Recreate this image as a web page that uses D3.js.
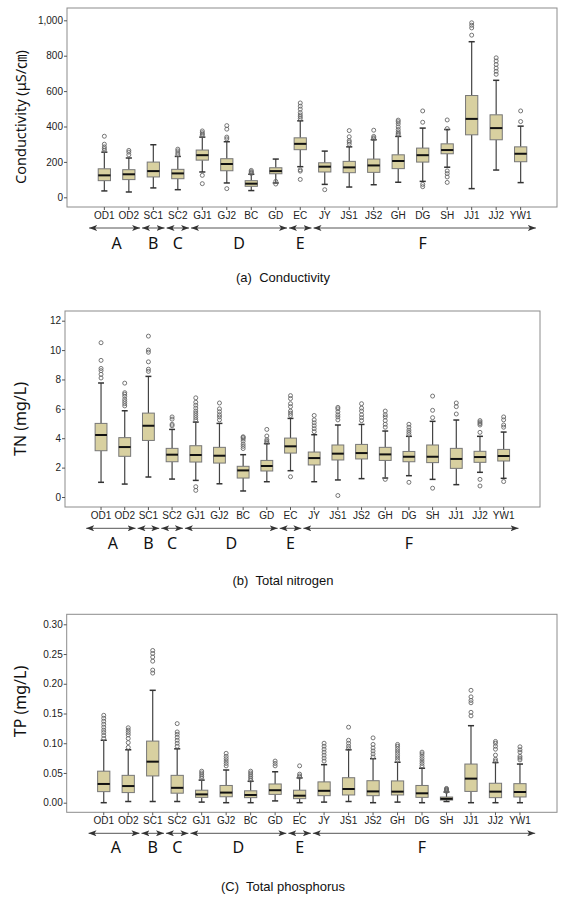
<!DOCTYPE html>
<html>
<head>
<meta charset="utf-8">
<script src="https://cdn.jsdelivr.net/npm/d3@7"></script>
<style>
  body { margin: 0; background: #fff; }
  svg { display: block; }
</style>
</head>
<body>
<div id="chart"></div>
<script>
// sampling sites and the river sections they belong to
const sites = ["OD1", "OD2", "SC1", "SC2", "GJ1", "GJ2", "BC", "GD", "EC",
    "JY", "JS1", "JS2", "GH", "DG", "SH", "JJ1", "JJ2", "YW1"];
const groupNames = ["A", "B", "C", "D", "E", "F"];
const groupFirst = ["OD1", "SC1", "SC2", "GJ1", "EC", "JY"];
const groupLast = ["OD2", "SC1", "SC2", "GD", "EC", "YW1"];

// (a) conductivity, uS/cm
const ecLow = [36, 30, 53, 43, 143, 81, 38, 81, 173, 73, 58, 71, 85, 90, 170, 49, 154, 83];
const ecQ1 = [94, 100, 115, 105, 210, 150, 62, 133, 269, 143, 139, 141, 162, 199, 246, 353, 325, 201];
const ecMed = [124, 130, 148, 135, 238, 188, 77, 148, 302, 173, 169, 180, 205, 238, 267, 443, 391, 246];
const ecQ3 = [161, 156, 199, 158, 267, 218, 94, 167, 336, 195, 203, 216, 240, 278, 302, 575, 466, 285];
const ecHigh = [255, 222, 297, 231, 340, 314, 130, 216, 432, 261, 285, 325, 344, 391, 383, 879, 661, 402];
const ecOut = [
    [265, 275, 285, 300, 345], [240, 255, 265], [], [240, 250, 262, 272],
    [350, 357, 365, 375, 124, 77], [330, 340, 385, 405, 49], [135, 140, 145, 152], [90, 75],
    [445, 455, 465, 478, 498, 515, 533, 155, 148, 101], [43], [300, 312, 320, 342, 377],
    [330, 336, 344, 379], [355, 362, 370, 383, 398, 415, 427, 436], [60, 73, 424, 488],
    [388, 437, 149, 134, 115, 84], [916, 957, 972, 986], [695, 712, 730, 750, 770, 788], [428, 488]
];

// (b) total nitrogen, mg/L
const tnLow = [1.0, 0.88, 1.36, 1.22, 1.13, 0.9, 0.41, 1.04, 1.79, 1.04, 1.16, 1.25, 1.29, 1.45, 1.2, 0.84, 1.68, 1.27];
const tnQ1 = [3.15, 2.77, 3.85, 2.4, 2.38, 2.31, 1.29, 1.77, 2.99, 2.18, 2.52, 2.59, 2.49, 2.4, 2.34, 1.95, 2.36, 2.45];
const tnMed = [4.22, 3.4, 4.85, 2.88, 2.86, 2.81, 1.81, 2.11, 3.45, 2.65, 2.95, 2.99, 2.9, 2.74, 2.74, 2.59, 2.72, 2.79];
const tnQ3 = [5.01, 4.04, 5.71, 3.31, 3.49, 3.38, 2.09, 2.49, 4.01, 3.06, 3.54, 3.58, 3.38, 3.1, 3.54, 3.31, 3.11, 3.24];
const tnHigh = [7.76, 5.87, 8.21, 4.6, 5.1, 5.01, 2.88, 3.63, 5.35, 4.24, 4.9, 4.94, 4.49, 4.13, 5.15, 5.24, 4.13, 4.42];
const tnOut = [
    [8.1, 8.35, 8.6, 8.75, 9.3, 10.5], [6.2, 6.35, 6.5, 6.65, 6.85, 7.0, 7.1, 7.75],
    [8.55, 8.7, 9.2, 9.85, 10.0, 10.95], [4.85, 4.95, 5.3, 5.45],
    [5.25, 5.4, 5.55, 5.7, 5.85, 6.05, 6.25, 6.45, 6.75, 0.7, 0.45], [5.25, 5.45, 5.6, 5.8, 6.0, 6.4],
    [3.3, 3.45, 3.6, 3.8, 3.95, 4.05, 4.1], [3.7, 3.8, 3.9, 4.15, 4.6],
    [5.55, 5.7, 5.85, 6.15, 6.35, 6.7, 6.9, 1.38], [4.45, 4.65, 4.85, 5.05, 5.25, 5.55],
    [5.25, 5.45, 5.6, 5.8, 6.0, 6.1, 0.1], [5.2, 5.4, 5.6, 5.85, 6.05, 6.35],
    [4.75, 4.95, 5.2, 5.45, 5.6, 5.85, 1.2], [4.25, 4.4, 4.55, 4.75, 4.95, 1.0],
    [5.4, 5.9, 6.87, 0.6], [5.65, 6.15, 6.4], [4.4, 4.9, 5.0, 5.1, 5.2, 1.2, 0.75], [4.75, 4.9, 5.25, 5.45, 1.05]
];

// (c) total phosphorus, mg/L
const tpLow = [0.0, 0.002, 0.002, 0.002, 0.001, 0.0, 0.0, 0.003, 0.0, 0.001, 0.002, 0.0, 0.001, 0.0, 0.002, 0.0, 0.0, 0.0];
const tpQ1 = [0.0186, 0.017, 0.045, 0.016, 0.009, 0.01, 0.0085, 0.014, 0.0068, 0.0118, 0.013, 0.0118, 0.013, 0.009, 0.0045, 0.019, 0.0085, 0.0096];
const tpMed = [0.0315, 0.028, 0.069, 0.025, 0.014, 0.017, 0.013, 0.021, 0.0118, 0.02, 0.023, 0.019, 0.0186, 0.0158, 0.0065, 0.0405, 0.0186, 0.018];
const tpQ3 = [0.053, 0.046, 0.1036, 0.046, 0.021, 0.029, 0.02, 0.0315, 0.021, 0.035, 0.042, 0.037, 0.0366, 0.029, 0.0095, 0.065, 0.0327, 0.032];
const tpHigh = [0.105, 0.089, 0.189, 0.0906, 0.038, 0.055, 0.036, 0.052, 0.0417, 0.064, 0.089, 0.074, 0.068, 0.058, 0.018, 0.1295, 0.0675, 0.065];
const tpOut = [
    [0.108, 0.113, 0.118, 0.122, 0.127, 0.132, 0.137, 0.142, 0.147], [0.093, 0.101, 0.108, 0.114, 0.118, 0.122, 0.126],
    [0.218, 0.223, 0.238, 0.245, 0.251, 0.256], [0.095, 0.1, 0.105, 0.11, 0.115, 0.119, 0.133],
    [0.041, 0.044, 0.047, 0.05, 0.053], [0.062, 0.066, 0.07, 0.074, 0.078, 0.083],
    [0.038, 0.041, 0.044, 0.047, 0.05, 0.053], [0.062, 0.066, 0.07], [0.043, 0.045, 0.048, 0.062],
    [0.07, 0.075, 0.08, 0.085, 0.09, 0.095, 0.1], [0.091, 0.095, 0.1, 0.105, 0.127],
    [0.077, 0.082, 0.087, 0.092, 0.098, 0.109], [0.071, 0.075, 0.079, 0.083, 0.087, 0.091, 0.095, 0.098],
    [0.062, 0.066, 0.07, 0.074, 0.078, 0.082, 0.085], [0.019, 0.02, 0.021, 0.022, 0.023, 0.024],
    [0.146, 0.152, 0.168, 0.172, 0.178, 0.189], [0.07, 0.073, 0.08, 0.09, 0.095, 0.1, 0.103],
    [0.072, 0.075, 0.078, 0.085, 0.089, 0.094]
];

const yTicksEc = [0, 200, 400, 600, 800, 1000];
const yTicksTn = [0, 2, 4, 6, 8, 10, 12];
const yTicksTp = [0, 0.05, 0.1, 0.15, 0.2, 0.25, 0.3];

const svg = d3.select("#chart").append("svg")
    .attr("width", 578)
    .attr("height", 900);

// arrowhead used by the section lines
const defs = svg.append("defs");
defs.append("marker")
    .attr("id", "arr")
    .attr("viewBox", "0 0 8 6")
    .attr("refX", 8).attr("refY", 3)
    .attr("markerWidth", 8).attr("markerHeight", 6)
    .attr("markerUnits", "userSpaceOnUse")
    .attr("orient", "auto-start-reverse")
    .append("path")
    .attr("d", "M0,0 L8,3 L0,6 L2,3 Z")
    .attr("fill", "#333");

const fill = "#d8d0a0";

function drawPanel(p) {
    const g = svg.append("g");

    const x = d3.scaleBand().domain(sites).range(p.xRange).padding(0);
    const y = d3.scaleLinear().domain(p.yDomain).range(p.yRange);

    const rows = sites.map((s, i) => ({
        site: s, low: p.low[i], q1: p.q1[i], med: p.med[i], q3: p.q3[i], high: p.high[i], out: p.out[i]
    }));

    // frame
    g.append("rect")
        .attr("x", p.frame[0]).attr("y", p.frame[1])
        .attr("width", p.frame[2] - p.frame[0]).attr("height", p.frame[3] - p.frame[1])
        .attr("fill", "none").attr("stroke", "#8c8c8c").attr("stroke-width", 1);

    // y axis
    const ya = g.append("g")
        .attr("transform", `translate(${p.frame[0]},0)`)
        .call(d3.axisLeft(y).tickValues(p.ticks).tickFormat(d3.format(p.fmt)).tickSize(3).tickPadding(1).tickSizeOuter(0));
    ya.select(".domain").remove();
    ya.selectAll("line").attr("stroke", "#555");
    ya.selectAll("text").attr("font-family", "Liberation Sans, Arial, sans-serif")
        .attr("font-size", 10).attr("fill", "#222");

    // x axis
    const xa = g.append("g")
        .attr("transform", `translate(0,${p.frame[3]})`)
        .call(d3.axisBottom(x).tickSize(3).tickPadding(2).tickSizeOuter(0));
    xa.select(".domain").remove();
    xa.selectAll("line").attr("stroke", "#555");
    xa.selectAll("text").attr("font-family", "Liberation Sans, Arial, sans-serif")
        .attr("font-size", 10).attr("fill", "#222");

    // axis title
    g.append("text")
        .attr("transform", `translate(20,${p.titleY}) rotate(-90)`)
        .attr("text-anchor", "middle")
        .attr("dominant-baseline", "central")
        .attr("font-family", "Noto Sans, Noto Sans CJK KR, sans-serif")
        .attr("font-size", p.titleSize)
        .attr("fill", "#111")
        .text(p.title);

    const bw = x.bandwidth() * 0.5;
    const cw = x.bandwidth() * 0.25;
    const boxes = g.selectAll(".box").data(rows).join("g")
        .attr("transform", d => `translate(${x(d.site) + x.bandwidth() / 2},0)`);

    // whiskers
    boxes.append("line")
        .attr("y1", d => y(d.low)).attr("y2", d => y(d.q1))
        .attr("stroke", "#444").attr("stroke-width", 1.2);
    boxes.append("line")
        .attr("y1", d => y(d.q3)).attr("y2", d => y(d.high))
        .attr("stroke", "#444").attr("stroke-width", 1.2);
    boxes.append("line")
        .attr("x1", -cw / 2).attr("x2", cw / 2)
        .attr("y1", d => y(d.low)).attr("y2", d => y(d.low))
        .attr("stroke", "#333").attr("stroke-width", 1.5);
    boxes.append("line")
        .attr("x1", -cw / 2).attr("x2", cw / 2)
        .attr("y1", d => y(d.high)).attr("y2", d => y(d.high))
        .attr("stroke", "#333").attr("stroke-width", 1.5);

    boxes.append("rect")
        .attr("x", -bw / 2).attr("width", bw)
        .attr("y", d => y(d.q3)).attr("height", d => y(d.q1) - y(d.q3))
        .attr("fill", fill).attr("stroke", "#777").attr("stroke-width", 1);

    boxes.append("line")
        .attr("x1", -bw / 2).attr("x2", bw / 2)
        .attr("y1", d => y(d.med)).attr("y2", d => y(d.med))
        .attr("stroke", "#111").attr("stroke-width", 2);

    boxes.selectAll("circle").data(d => d.out).join("circle")
        .attr("cy", v => y(v))
        .attr("r", 2)
        .attr("fill", "none").attr("stroke", "#666").attr("stroke-width", 0.9);

    // river sections under the axis
    const sec = g.append("g");
    groupNames.forEach((name, i) => {
        const x0 = x(groupFirst[i]);
        const x1 = x(groupLast[i]) + x.bandwidth();
        sec.append("line")
            .attr("x1", x0 + (i === 0 ? -3 : 1)).attr("x2", x1 - (i === groupNames.length - 1 ? -3 : 1))
            .attr("y1", p.arrowY).attr("y2", p.arrowY)
            .attr("stroke", "#555").attr("stroke-width", 1)
            .attr("marker-start", "url(#arr)").attr("marker-end", "url(#arr)");
        sec.append("text")
            .attr("x", (x0 + x1) / 2).attr("y", p.letterY)
            .attr("text-anchor", "middle").attr("dominant-baseline", "central")
            .attr("font-family", "Noto Sans, sans-serif")
            .attr("font-size", 16).attr("fill", "#111")
            .text(name);
    });

    // caption
    g.append("text")
        .attr("x", 283).attr("y", p.captionY)
        .attr("text-anchor", "middle").attr("dominant-baseline", "central")
        .attr("font-family", "Liberation Sans, Arial, sans-serif")
        .attr("font-size", 13).attr("fill", "#111")
        .attr("xml:space", "preserve")
        .text(p.caption);
}

drawPanel({
    frame: [67, 8, 557, 207], xRange: [92.1, 532.9], yDomain: [0, 1000], yRange: [197.3, 20.3],
    ticks: yTicksEc, fmt: ",", title: "Conductivity (μS/㎝)", titleY: 117, titleSize: 14.5,
    low: ecLow, q1: ecQ1, med: ecMed, q3: ecQ3, high: ecHigh, out: ecOut,
    arrowY: 228, letterY: 243, captionY: 277, caption: "(a)  Conductivity"
});
drawPanel({
    frame: [65, 311, 540, 507], xRange: [89.2, 515.5], yDomain: [0, 12], yRange: [497, 320.7],
    ticks: yTicksTn, fmt: "d", title: "TN (mg/L)", titleY: 419, titleSize: 16,
    low: tnLow, q1: tnQ1, med: tnMed, q3: tnQ3, high: tnHigh, out: tnOut,
    arrowY: 528.3, letterY: 543, captionY: 580, caption: "(b)  Total nitrogen"
});
drawPanel({
    frame: [66.7, 614.3, 557, 812.3], xRange: [91.5, 532.2], yDomain: [0, 0.3], yRange: [802.7, 624.3],
    ticks: yTicksTp, fmt: ".2f", title: "TP (mg/L)", titleY: 701.5, titleSize: 16,
    low: tpLow, q1: tpQ1, med: tpMed, q3: tpQ3, high: tpHigh, out: tpOut,
    arrowY: 833.3, letterY: 847, captionY: 886, caption: "(C)  Total phosphorus"
});
</script>
</body>
</html>
